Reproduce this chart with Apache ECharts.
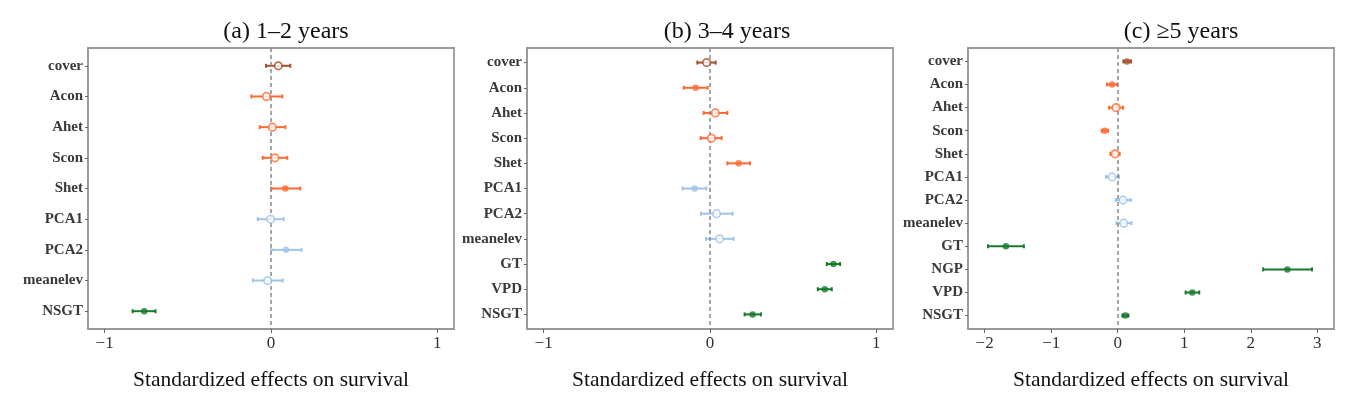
<!DOCTYPE html>
<html style="height: 100%">
<head>
    <meta charset="utf-8">
</head>
<body style="height: 100%; margin: 0; background: #fff">
    <div id="container" style="width: 1362px; height: 396px;"></div>
    <script type="text/javascript" src="https://cdn.jsdelivr.net/npm/echarts@6/dist/echarts.min.js"></script>
    <script type="text/javascript">
        // panel (a) 1-2 years
        var catsA = ['cover', 'Acon', 'Ahet', 'Scon', 'Shet', 'PCA1', 'PCA2', 'meanelev', 'NSGT'];
        var estA = [0.044, -0.028, 0.008, 0.024, 0.086, -0.002, 0.09, -0.02, -0.762];
        var loA = [-0.03, -0.118, -0.068, -0.05, 0.002, -0.08, 0.002, -0.108, -0.832];
        var hiA = [0.116, 0.068, 0.086, 0.098, 0.176, 0.076, 0.184, 0.07, -0.694];
        var sigA = [0, 0, 0, 0, 1, 0, 1, 0, 1];

        // panel (b) 3-4 years
        var catsB = ['cover', 'Acon', 'Ahet', 'Scon', 'Shet', 'PCA1', 'PCA2', 'meanelev', 'GT', 'VPD', 'NSGT'];
        var estB = [-0.02, -0.086, 0.032, 0.008, 0.172, -0.092, 0.04, 0.058, 0.742, 0.69, 0.256];
        var loB = [-0.076, -0.158, -0.038, -0.056, 0.104, -0.164, -0.054, -0.024, 0.702, 0.648, 0.208];
        var hiB = [0.034, -0.014, 0.104, 0.07, 0.24, -0.022, 0.136, 0.142, 0.782, 0.732, 0.306];
        var sigB = [0, 1, 0, 0, 1, 1, 0, 0, 1, 1, 1];

        // panel (c) >=5 years
        var catsC = ['cover', 'Acon', 'Ahet', 'Scon', 'Shet', 'PCA1', 'PCA2', 'meanelev', 'GT', 'NGP', 'VPD', 'NSGT'];
        var estC = [0.14, -0.085, -0.025, -0.195, -0.04, -0.085, 0.08, 0.09, -1.68, 2.55, 1.12, 0.115];
        var loC = [0.085, -0.16, -0.13, -0.24, -0.11, -0.175, -0.03, -0.02, -1.95, 2.185, 1.02, 0.07];
        var hiC = [0.2, -0.005, 0.08, -0.145, 0.03, 0.02, 0.195, 0.205, -1.41, 2.92, 1.225, 0.16];
        var sigC = [1, 1, 0, 1, 0, 0, 0, 0, 1, 1, 1, 1];

        var ticksAB = [-1, 0, 1];
        var ticksC = [-2, -1, 0, 1, 2, 3];

        var groupColor = {
            cover: '#a3502c',
            Acon: '#ff6a33', Ahet: '#ff6a33', Scon: '#ff6a33', Shet: '#ff6a33',
            PCA1: '#9fc4e8', PCA2: '#9fc4e8', meanelev: '#9fc4e8'
        };
        function colorOf(name) {
            return groupColor[name] || '#17792b';
        }

        var serif = '"Liberation Serif", "Times New Roman", serif';
        var rowPad = 0.58;
        var dom = document.getElementById("container");
        var myChart = echarts.init(dom);

        var panels = [
            { cats: catsA, est: estA, lo: loA, hi: hiA, sig: sigA, min: -1.1, max: 1.1, ticks: ticksAB, left: 88 },
            { cats: catsB, est: estB, lo: loB, hi: hiB, sig: sigB, min: -1.1, max: 1.1, ticks: ticksAB, left: 527 },
            { cats: catsC, est: estC, lo: loC, hi: hiC, sig: sigC, min: -2.25, max: 3.25, ticks: ticksC, left: 968 }
        ];

        var grids = [], xAxes = [], yAxes = [], series = [];
        panels.forEach(function (p, i) {
            var rows = p.cats.map(function (c, k) { return k; });
            grids.push({
                left: p.left, top: 48, width: 366, height: 291,
                show: true, borderColor: '#9a9a9a', borderWidth: 1.8, backgroundColor: 'transparent'
            });
            xAxes.push({
                type: 'value', gridIndex: i, min: p.min, max: p.max,
                name: 'Standardized effects on survival', nameLocation: 'middle', nameGap: 40,
                nameTextStyle: { fontFamily: serif, fontSize: 21.5, color: '#111' },
                splitLine: { show: false },
                axisLine: { show: true, onZero: false, lineStyle: { color: '#9a9a9a', width: 1.8 } },
                axisTick: { show: true, length: 4, customValues: p.ticks, lineStyle: { color: '#666' } },
                axisLabel: {
                    customValues: p.ticks, fontFamily: serif, fontSize: 17, color: '#333', margin: 6,
                    formatter: function (v) { return String(v).replace('-', '\u2212'); }
                }
            });
            yAxes.push({
                type: 'value', gridIndex: i, inverse: true,
                min: -rowPad, max: p.cats.length - 1 + rowPad,
                axisLine: { show: true, onZero: false, lineStyle: { color: '#9a9a9a', width: 1.8 } },
                axisTick: { show: true, length: 3, customValues: rows, lineStyle: { color: '#666' } },
                axisLabel: {
                    customValues: rows, fontFamily: serif, fontSize: 15, fontWeight: 'bold', color: '#3a3a3a', margin: 5,
                    formatter: function (v) { return p.cats[Math.round(v)]; }
                },
                splitLine: { show: false }
            });

            var barData = p.cats.map(function (c, k) { return [p.lo[k], p.hi[k], k]; });
            series.push({
                type: 'custom', xAxisIndex: i, yAxisIndex: i, z: 3,
                data: barData,
                renderItem: function (params, api) {
                    var a = api.coord([api.value(0), api.value(2)]);
                    var b = api.coord([api.value(1), api.value(2)]);
                    var col = colorOf(p.cats[api.value(2)]);
                    var st = { stroke: col, lineWidth: 2 };
                    return {
                        type: 'group',
                        children: [
                            { type: 'line', shape: { x1: a[0], y1: a[1], x2: b[0], y2: b[1] }, style: st },
                            { type: 'line', shape: { x1: a[0], y1: a[1] - 2, x2: a[0], y2: a[1] + 2 }, style: st },
                            { type: 'line', shape: { x1: b[0], y1: b[1] - 2, x2: b[0], y2: b[1] + 2 }, style: st }
                        ]
                    };
                },
                markLine: {
                    silent: true, symbol: 'none', label: { show: false },
                    lineStyle: { type: [4, 3], color: '#888', width: 1.5 },
                    data: [{ xAxis: 0 }]
                }
            });

            var ptData = p.cats.map(function (c, k) {
                var col = colorOf(c);
                return {
                    value: [p.est[k], k],
                    symbolSize: p.sig[k] ? 6.5 : 7.5,
                    itemStyle: p.sig[k]
                        ? { color: col, borderColor: col, borderWidth: 0 }
                        : { color: '#fff', borderColor: col, borderWidth: 1.7 }
                };
            });
            series.push({
                type: 'scatter', xAxisIndex: i, yAxisIndex: i, z: 5,
                symbol: 'circle', data: ptData
            });
        });

        var option = {
            backgroundColor: '#fff',
            animation: false,
            title: [
                { text: '(a) 1\u20132 years', left: 281, top: 15, textAlign: 'center' },
                { text: '(b) 3\u20134 years', left: 722, top: 15, textAlign: 'center' },
                { text: '(c) \u22655 years', left: 1176, top: 15, textAlign: 'center' }
            ].map(function (t) {
                t.textStyle = { fontFamily: serif, fontSize: 24, fontWeight: 'normal', color: '#111' };
                return t;
            }),
            grid: grids,
            xAxis: xAxes,
            yAxis: yAxes,
            series: series
        };
        myChart.setOption(option, true);
    </script>
</body>
</html>
